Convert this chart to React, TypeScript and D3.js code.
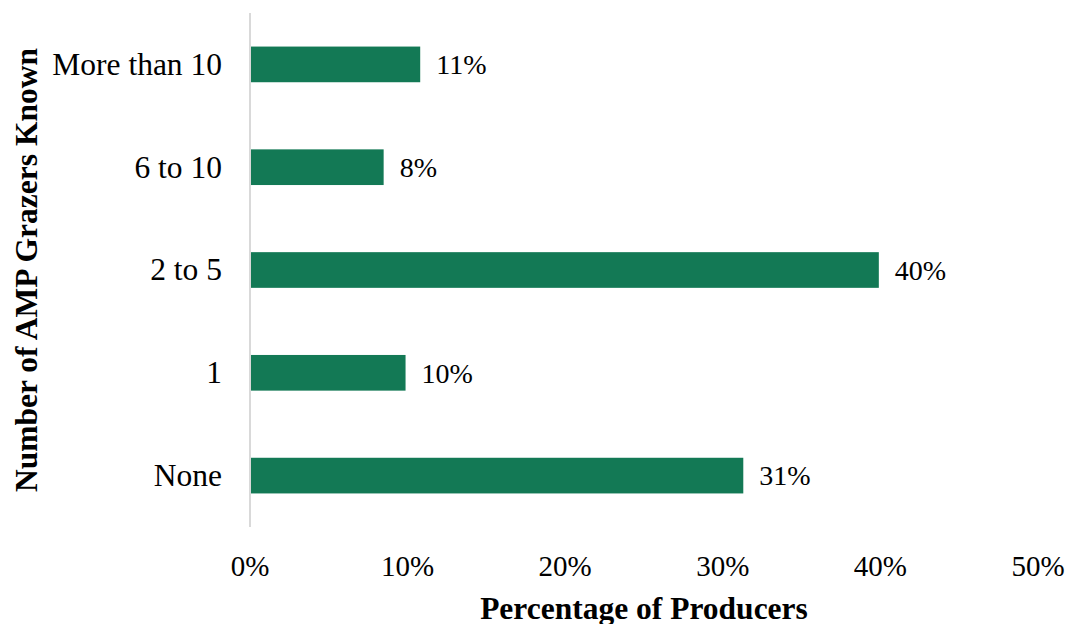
import React from "react";
import * as d3 from "d3";

const categories = ["More than 10", "6 to 10", "2 to 5", "1", "None"];
const values = [10.8, 8.48, 39.9, 9.87, 31.3];
const valueLabels = ["11%", "8%", "40%", "10%", "31%"];
const xTicks = [0, 10, 20, 30, 40, 50];

const W = 1070;
const H = 624;
const left = 250;
const right = 1038;
const top = 13;
const bottom = 527;
const FONT = "'Liberation Serif', 'Times New Roman', serif";
const BAR = "#137955";

export default function App() {
  const x = d3.scaleLinear().domain([0, 50]).range([left, right]);
  const y = d3
    .scaleBand<string>()
    .domain(categories)
    .range([top, bottom])
    .paddingInner(0.653)
    .paddingOuter(0.3265);

  return (
    <svg
      width={W}
      height={H}
      style={{ position: "absolute", left: 0, top: 0, background: "#fff" }}
      fontFamily={FONT}
    >
      {categories.map((c, i) => {
        const yy = y(c)!;
        const bw = y.bandwidth();
        return (
          <g key={c}>
            <rect x={x(0) + 1} y={yy} width={x(values[i]) - x(0) - 1} height={bw} fill={BAR} />
            <text
              x={x(values[i]) + 16}
              y={yy + bw / 2}
              dy="0.35em"
              fontSize={28}
              fill="#000"
            >
              {valueLabels[i]}
            </text>
            <text
              x={222}
              y={yy + bw / 2}
              dy="0.33em"
              fontSize={31.5}
              textAnchor="end"
              fill="#000"
            >
              {c}
            </text>
          </g>
        );
      })}
      <line x1={x(0)} x2={x(0)} y1={top} y2={bottom} stroke="#d9d9d9" strokeWidth={2} />
      {xTicks.map((t) => (
        <text key={t} x={x(t)} y={576} fontSize={29} textAnchor="middle" fill="#000">
          {t}%
        </text>
      ))}
      <text
        x={(left + right) / 2}
        y={619}
        fontSize={31.5}
        fontWeight="bold"
        textAnchor="middle"
        fill="#000"
      >
        Percentage of Producers
      </text>
      <text
        transform={`translate(37, ${(top + bottom) / 2}) rotate(-90)`}
        fontSize={31.5}
        fontWeight="bold"
        textAnchor="middle"
        fill="#000"
      >
        Number of AMP Grazers Known
      </text>
    </svg>
  );
}
